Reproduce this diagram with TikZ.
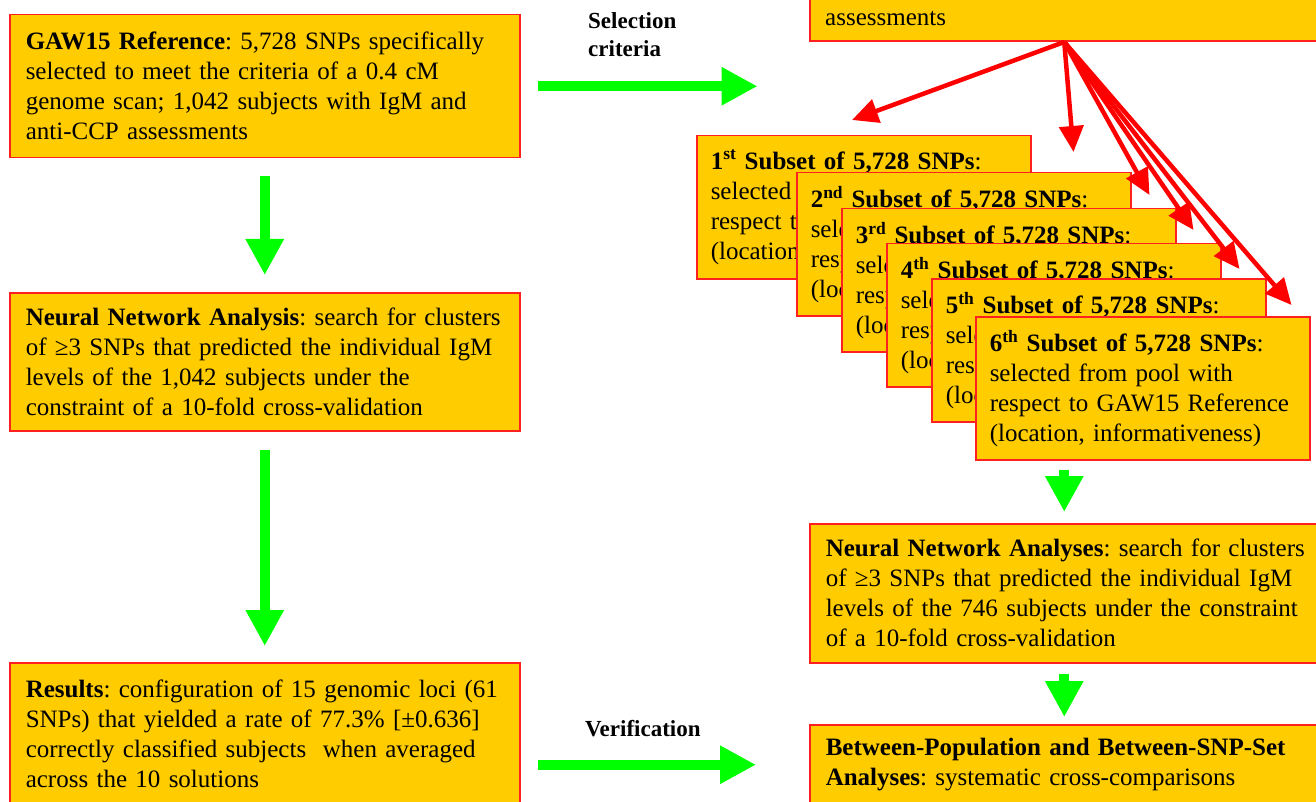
\documentclass[tikz,border=0pt]{standalone}
\usepackage{fontspec}
\setmainfont{Liberation Serif}
\usetikzlibrary{arrows.meta,calc}
\definecolor{boxfill}{HTML}{FFCC00}
\definecolor{grn}{HTML}{00FF00}
\definecolor{bred}{HTML}{FF2020}
\frenchspacing
\hyphenpenalty=10000
\exhyphenpenalty=10000
\newcommand{\subsettext}[2]{\mbox{\textbf{#1\textsuperscript{#2} Subset of 5,728 SNPs}:}\\ selected from pool with\\ \mbox{respect to GAW15 Reference}\\ \mbox{(location, informativeness)}}
\begin{document}
\begin{tikzpicture}[x=1pt,y=-1pt,
  box/.style={draw=bred, line width=1.5pt, fill=boxfill, anchor=north west, align=left,
    inner xsep=16pt, inner ysep=0pt, font=\fontsize{25}{30}\selectfont\frenchspacing, text=black},
  subbox/.style={box, inner xsep=14pt, minimum width=334pt, text width=306pt, minimum height=143pt},
  ga/.style={draw=grn, line width=10pt, -{Triangle[length=36pt,width=36pt]}},
  ra/.style={draw=red, line width=4.5pt, -{Triangle[length=26pt,width=24pt]}},
  lbl/.style={font=\bfseries\fontsize{23}{28}\selectfont, align=left, inner sep=0pt, text=black}
]
\useasboundingbox (0,0) rectangle (1316,802);
\clip (0,0) rectangle (1316,802);

% left column
\node[box, minimum width=510pt, text width=478pt, minimum height=143pt] (ref) at (9,14)
  {\mbox{\textbf{GAW15 Reference}: 5,728 SNPs specifically}\\ \mbox{selected to meet the criteria of a 0.4 cM}\\ \mbox{genome scan; 1,042 subjects with IgM and}\\ anti-CCP assessments};
\node[box, minimum width=510pt, text width=478pt, minimum height=138pt] (nn) at (9,292)
  {\mbox{\textbf{Neural Network Analysis}: search for clusters}\\ \mbox{of ≥3 SNPs that predicted the individual IgM}\\ levels of the 1,042 subjects under the\\ \mbox{constraint of a 10-fold cross-validation}};
\node[box, minimum width=510pt, text width=478pt, minimum height=143pt] (res) at (9,662)
  {\mbox{\textbf{Results}: configuration of 15 genomic loci (61}\\ \mbox{SNPs) that yielded a rate of 77.3\% [±0.636]}\\ \mbox{correctly classified subjects\ \ when averaged}\\ across the 10 solutions};

% right column
\node[draw=bred, line width=1.5pt, fill=boxfill, minimum width=509pt, minimum height=100pt,
  anchor=south west, inner sep=0pt] (pool) at (809,42) {};
\node[font=\fontsize{25}{30}\selectfont, anchor=base west, inner sep=0pt] (pooltxt) at (825,26) {assessments};

\node[subbox] (s1) at (696,135) {\subsettext{1}{st}};
\node[subbox] (s2) at (796,172) {\subsettext{2}{nd}};
\node[subbox] (s3) at (841,208) {\subsettext{3}{rd}};
\node[subbox] (s4) at (886,243) {\subsettext{4}{th}};
\node[subbox] (s5) at (931,278) {\subsettext{5}{th}};
\node[subbox] (s6) at (975,316) {\subsettext{6}{th}};

\node[box, minimum width=509pt, text width=477pt, minimum height=139pt] (nnr) at (809,523)
  {\mbox{\textbf{Neural Network Analyses}: search for clusters}\\ \mbox{of ≥3 SNPs that predicted the individual IgM}\\ \mbox{levels of the 746 subjects under the constraint}\\ of a 10-fold cross-validation};
\node[box, minimum width=509pt, text width=477pt, minimum height=80pt] (betw) at (809,724)
  {\mbox{\textbf{Between-Population and Between-SNP-Set}}\\ \mbox{\textbf{Analyses}: systematic cross-comparisons}};

% labels
\node[lbl, anchor=north west] (sellbl) at (588,12) {Selection\\criteria};
\node[lbl, anchor=base west] (verlbl) at (585,736) {Verification};

% green arrows
\draw[ga] ([yshift=-18pt]ref.south) -- ([yshift=17pt]nn.north);
\draw[ga] ([yshift=-18pt]nn.south) -- ([yshift=16pt]res.north);
\coordinate (selend) at ($(ref.east)+(237,0)$);
\draw[ga] ([xshift=17pt]ref.east) -- (selend);
\draw[ga] ($(res.east |- betw.west)+(17,0)$) -- ($(betw.west)+(-53,0)$);
\draw[ga] ($(nnr.north |- s6.south)+(0,9)$) -- ($(nnr.north)+(0,-11)$);
\draw[ga] ($(nnr.south)+(0,10)$) -- ($(betw.north)+(0,-7)$);

% red arrows
\draw[ra] (pool.south) -- ($(s1.north west)+(156,-15)$);
\draw[ra] (pool.south) -- ($(s2.north east)+(-58,-20)$);
\draw[ra] (pool.south) -- ($(s3.north east)+(-27,-13)$);
\draw[ra] (pool.south) -- ($(s4.north east)+(-28,-13)$);
\draw[ra] (pool.south) -- ($(s5.north east)+(-27,-9)$);
\draw[ra] (pool.south) -- ($(s6.north east)+(-19,-11)$);
\end{tikzpicture}
\end{document}
